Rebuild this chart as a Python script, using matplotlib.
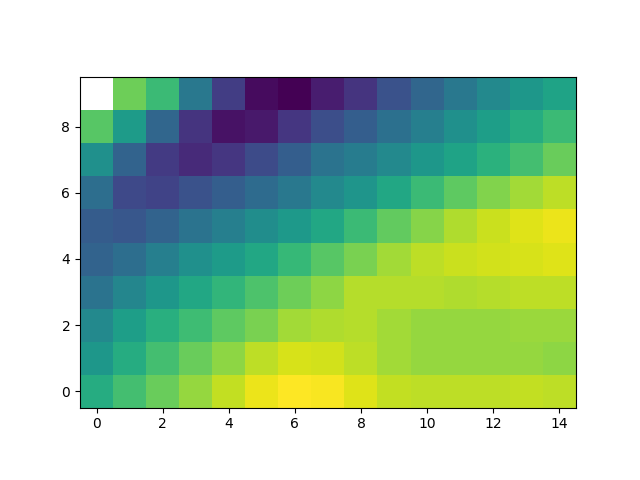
import numpy as np
import matplotlib.pyplot as plt

# grid values, one list per row (row 0 at the bottom)
row0 = [0.62, 0.70, 0.77, 0.84, 0.91, 0.97, 1.00, 0.99, 0.95, 0.91, 0.90, 0.90, 0.90, 0.91, 0.90]
row1 = [0.53, 0.62, 0.70, 0.77, 0.83, 0.90, 0.94, 0.93, 0.90, 0.86, 0.84, 0.84, 0.84, 0.84, 0.83]
row2 = [0.47, 0.56, 0.63, 0.69, 0.75, 0.80, 0.86, 0.88, 0.89, 0.86, 0.84, 0.84, 0.84, 0.85, 0.85]
row3 = [0.38, 0.46, 0.53, 0.60, 0.66, 0.72, 0.78, 0.83, 0.89, 0.89, 0.89, 0.88, 0.89, 0.90, 0.90]
row4 = [0.32, 0.36, 0.43, 0.50, 0.55, 0.60, 0.67, 0.74, 0.80, 0.86, 0.90, 0.92, 0.93, 0.94, 0.95]
row5 = [0.29, 0.27, 0.32, 0.38, 0.43, 0.49, 0.54, 0.60, 0.68, 0.76, 0.82, 0.88, 0.92, 0.95, 0.97]
row6 = [0.36, 0.22, 0.20, 0.25, 0.30, 0.35, 0.40, 0.47, 0.52, 0.60, 0.68, 0.75, 0.81, 0.86, 0.90]
row7 = [0.50, 0.32, 0.17, 0.12, 0.16, 0.23, 0.30, 0.38, 0.42, 0.47, 0.53, 0.58, 0.64, 0.70, 0.77]
row8 = [0.74, 0.55, 0.33, 0.15, 0.05, 0.07, 0.16, 0.24, 0.30, 0.37, 0.43, 0.50, 0.56, 0.62, 0.68]
row9 = [np.nan, 0.78, 0.68, 0.40, 0.18, 0.03, 0.00, 0.08, 0.15, 0.25, 0.33, 0.40, 0.47, 0.53, 0.58]

data = np.array([row0, row1, row2, row3, row4, row5, row6, row7, row8, row9])

fig, ax = plt.subplots(figsize=(6.4, 4.8), dpi=100)
ax.imshow(data, cmap='viridis', origin='lower', vmin=0, vmax=1)

plt.savefig('out.png')
